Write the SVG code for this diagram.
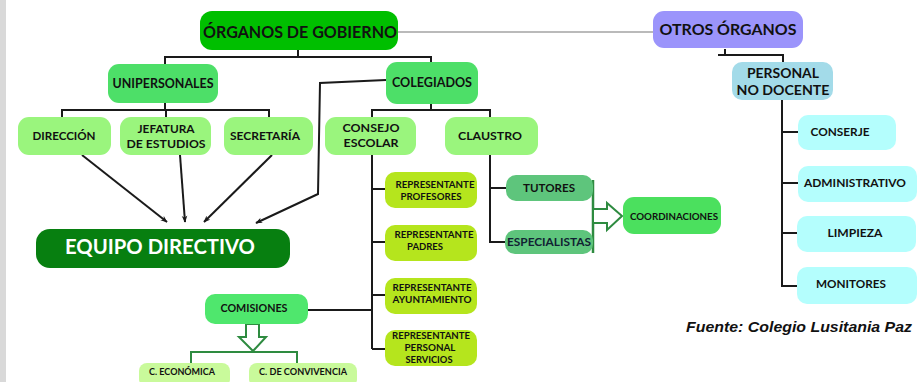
<svg xmlns="http://www.w3.org/2000/svg" width="920" height="382" viewBox="0 0 920 382">
<defs>
<style>
text{font-family:"Lato","Open Sans","Liberation Sans",sans-serif;font-weight:bold;fill:#111;text-anchor:middle}
.ln{fill:none;stroke:#1a1a1a;stroke-width:2}
.g0{fill:#00bf00}.g1{fill:#4ddf68}.g2{fill:#9af57d}.rep{fill:#b5e51d}.tut{fill:#5ec57c}.coo{fill:#4be05e}.com{fill:#4fe76d}.cb{fill:#c9fa9b}.eq{fill:#077f10}.ot{fill:#9b94fb}.pn{fill:#a3dbe9}.cy{fill:#b4fefd}
.hol{fill:#fff;stroke:#2e8b40;stroke-width:2}
</style>
<marker id="ah" viewBox="0 0 10 10" refX="9" refY="5" markerWidth="7" markerHeight="7" orient="auto" markerUnits="userSpaceOnUse">
<path d="M0,1 L10,5 L0,9 L3,5 z" fill="#1a1a1a"/>
</marker>
</defs>
<rect x="0" y="0" width="920" height="382" fill="#fff"/>
<rect x="0" y="0" width="6" height="382" fill="#d9d9d9"/>

<g id="connectors">
<line x1="398" y1="32" x2="654" y2="32" stroke="#777" stroke-width="1.2"/>
<path class="ln" d="M298,49 V57 M165,57 H432 M165,56 V65 M431,56 V63"/>
<path class="ln" d="M165,103 V110 M62,110 H270 M62,109 V118 M166,109 V118 M269,109 V118"/>
<path class="ln" d="M431,104 V110 M372,110 H491 M372,109 V118 M490,109 V118"/>
<line class="ln" x1="82" y1="155" x2="167" y2="222" marker-end="url(#ah)"/>
<line class="ln" x1="180" y1="155" x2="185" y2="222" marker-end="url(#ah)"/>
<line class="ln" x1="272" y1="155" x2="204" y2="222" marker-end="url(#ah)"/>
<path class="ln" d="M386,80 L320,83 L318,194 L256,223" marker-end="url(#ah)"/>
<path class="ln" d="M372,155 V349 M372,189 H387 M372,242 H387 M372,295 H387 M372,349 H387 M308,310 H372"/>
<path class="ln" d="M490,155 V242 H507 M490,188 H507"/>
<line x1="593" y1="180" x2="593" y2="253" stroke="#2e8b40" stroke-width="2.5"/>
<path class="hol" d="M594,209 H607 V203 L622,216 L607,230 V223 H594"/>
<path class="hol" d="M246,324 V337 H239 L253,351 L266,337 H259 V324 Z"/>
<path fill="none" stroke="#2e8b40" stroke-width="2" d="M191,364 V352 H297 V364"/>
<path class="ln" d="M725,49 V56 M718,55 H783 V63"/>
<path class="ln" d="M782,100 V286 H800 M782,132 H800 M782,183 H800 M782,233 H800"/>
</g>

<g id="organos-gobierno"><rect class="g0" x="200" y="11" width="198" height="39" rx="12"/><text x="300" y="38" font-size="17" textLength="194" lengthAdjust="spacingAndGlyphs">ÓRGANOS DE GOBIERNO</text></g>
<g id="otros-organos"><rect class="ot" x="653" y="11" width="150" height="37" rx="11"/><text x="728" y="35" font-size="15" textLength="137" lengthAdjust="spacingAndGlyphs">OTROS ÓRGANOS</text></g>
<g id="unipersonales"><rect class="g1" x="108" y="64" width="110" height="39" rx="11"/><text x="163" y="88" font-size="13" textLength="101" lengthAdjust="spacingAndGlyphs">UNIPERSONALES</text></g>
<g id="colegiados"><rect class="g1" x="386" y="62" width="92" height="42" rx="11"/><text x="432" y="87" font-size="13" textLength="80" lengthAdjust="spacingAndGlyphs">COLEGIADOS</text></g>
<g id="direccion"><rect class="g2" x="18" y="117" width="93" height="38" rx="11"/><text x="64" y="140" font-size="12" textLength="63" lengthAdjust="spacingAndGlyphs">DIRECCIÓN</text></g>
<g id="jefatura"><rect class="g2" x="120" y="117" width="91" height="38" rx="11"/><text x="166" y="133" font-size="12" textLength="57" lengthAdjust="spacingAndGlyphs">JEFATURA</text><text x="166" y="148" font-size="12" textLength="79" lengthAdjust="spacingAndGlyphs">DE ESTUDIOS</text></g>
<g id="secretaria"><rect class="g2" x="224" y="117" width="89" height="38" rx="11"/><text x="265" y="140" font-size="12" textLength="70" lengthAdjust="spacingAndGlyphs">SECRETARÍA</text></g>
<g id="consejo-escolar"><rect class="g2" x="325" y="117" width="91" height="38" rx="11"/><text x="371" y="132" font-size="12" textLength="57" lengthAdjust="spacingAndGlyphs">CONSEJO</text><text x="371" y="147" font-size="12" textLength="55" lengthAdjust="spacingAndGlyphs">ESCOLAR</text></g>
<g id="claustro"><rect class="g2" x="445" y="117" width="93" height="38" rx="11"/><text x="490" y="140" font-size="12" textLength="64" lengthAdjust="spacingAndGlyphs">CLAUSTRO</text></g>
<g id="equipo-directivo"><rect class="eq" x="36" y="229" width="254" height="39" rx="14"/><text x="160" y="254" font-size="21" fill="#fff" style="fill:#fff" textLength="190" lengthAdjust="spacingAndGlyphs">EQUIPO DIRECTIVO</text></g>
<g id="rep-profesores"><rect class="rep" x="385" y="172" width="92" height="36" rx="10"/><text x="435" y="188" font-size="9.5" textLength="79" lengthAdjust="spacingAndGlyphs">REPRESENTANTE</text><text x="431" y="200" font-size="9.5" textLength="61" lengthAdjust="spacingAndGlyphs">PROFESORES</text></g>
<g id="rep-padres"><rect class="rep" x="385" y="225" width="92" height="36" rx="10"/><text x="434" y="238" font-size="9.5" textLength="79" lengthAdjust="spacingAndGlyphs">REPRESENTANTE</text><text x="425" y="250" font-size="9.5" textLength="36" lengthAdjust="spacingAndGlyphs">PADRES</text></g>
<g id="rep-ayuntamiento"><rect class="rep" x="385" y="278" width="92" height="36" rx="10"/><text x="432" y="291" font-size="9.5" textLength="79" lengthAdjust="spacingAndGlyphs">REPRESENTANTE</text><text x="432" y="303" font-size="9.5" textLength="79" lengthAdjust="spacingAndGlyphs">AYUNTAMIENTO</text></g>
<g id="rep-personal"><rect class="rep" x="385" y="330" width="92" height="36" rx="10"/><text x="431" y="339" font-size="9.5" textLength="78" lengthAdjust="spacingAndGlyphs">REPRESENTANTE</text><text x="430" y="351" font-size="9.5" textLength="51" lengthAdjust="spacingAndGlyphs">PERSONAL</text><text x="429" y="363" font-size="9.5" textLength="47" lengthAdjust="spacingAndGlyphs">SERVICIOS</text></g>
<g id="tutores"><rect class="tut" x="506" y="175" width="87" height="26" rx="10"/><text x="549" y="192" font-size="11" textLength="52" lengthAdjust="spacingAndGlyphs">TUTORES</text></g>
<g id="especialistas"><rect class="tut" x="505" y="230" width="88" height="24" rx="10"/><text x="549" y="246" font-size="11" textLength="84" lengthAdjust="spacingAndGlyphs" style="fill:#123">ESPECIALISTAS</text></g>
<g id="coordinaciones"><rect class="coo" x="623" y="197" width="98" height="37" rx="11"/><text x="674" y="220" font-size="9.5" textLength="88" lengthAdjust="spacingAndGlyphs">COORDINACIONES</text></g>
<g id="comisiones"><rect class="com" x="205" y="294" width="103" height="30" rx="10"/><text x="254" y="312" font-size="11" textLength="67" lengthAdjust="spacingAndGlyphs">COMISIONES</text></g>
<g id="c-economica"><rect class="cb" x="139" y="363" width="91" height="24" rx="8"/><text x="182" y="375" font-size="9" textLength="66" lengthAdjust="spacingAndGlyphs">C. ECONÓMICA</text></g>
<g id="c-convivencia"><rect class="cb" x="249" y="363" width="108" height="24" rx="8"/><text x="303" y="375" font-size="9" textLength="88" lengthAdjust="spacingAndGlyphs">C. DE CONVIVENCIA</text></g>
<g id="personal-no-docente"><rect class="pn" x="732" y="62" width="101" height="38" rx="10"/><text x="783" y="78" font-size="12.5" textLength="72" lengthAdjust="spacingAndGlyphs">PERSONAL</text><text x="783" y="95" font-size="12.5" textLength="93" lengthAdjust="spacingAndGlyphs">NO DOCENTE</text></g>
<g id="conserje"><rect class="cy" x="798" y="115" width="98" height="35" rx="10"/><text x="840" y="136" font-size="11" textLength="59" lengthAdjust="spacingAndGlyphs">CONSERJE</text></g>
<g id="administrativo"><rect class="cy" x="798" y="166" width="119" height="36" rx="10"/><text x="855" y="187" font-size="11" textLength="102" lengthAdjust="spacingAndGlyphs">ADMINISTRATIVO</text></g>
<g id="limpieza"><rect class="cy" x="797" y="216" width="119" height="36" rx="10"/><text x="855" y="237" font-size="11" textLength="55" lengthAdjust="spacingAndGlyphs">LIMPIEZA</text></g>
<g id="monitores"><rect class="cy" x="797" y="267" width="120" height="37" rx="10"/><text x="851" y="288" font-size="11" textLength="70" lengthAdjust="spacingAndGlyphs">MONITORES</text></g>
<g id="fuente"><text x="912" y="332" font-size="15" style="font-family:'Liberation Sans',Arial,sans-serif;font-style:italic;text-anchor:end;fill:#111" textLength="226" lengthAdjust="spacingAndGlyphs">Fuente: Colegio Lusitania Paz</text></g>
</svg>
